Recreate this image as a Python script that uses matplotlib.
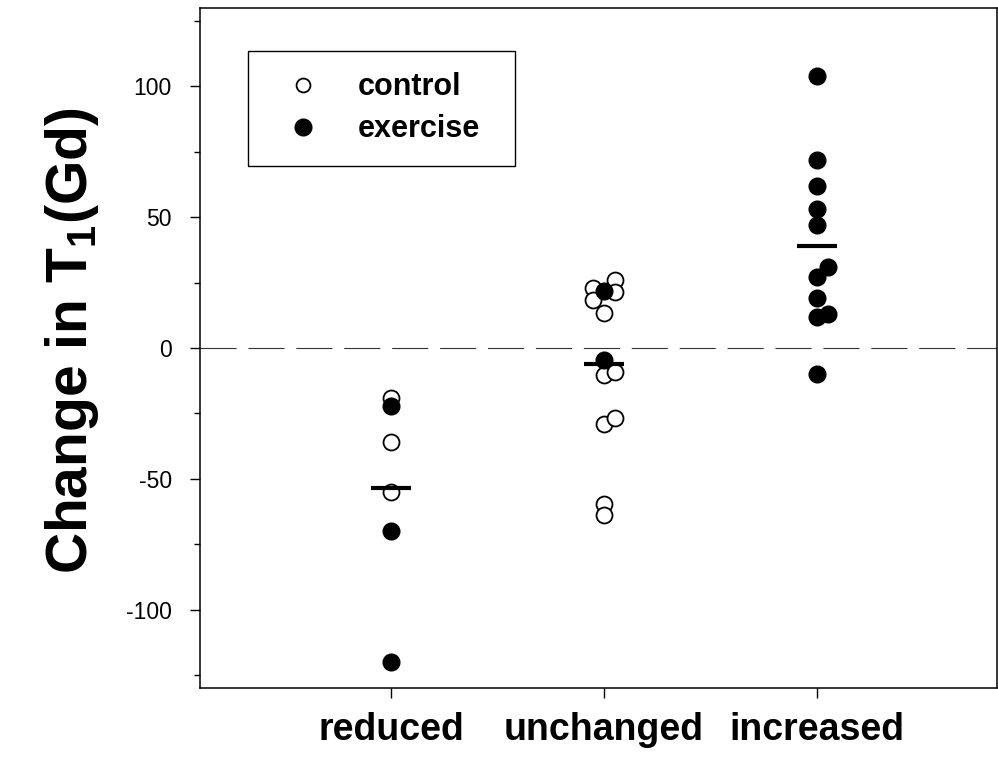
import numpy as np
import matplotlib
matplotlib.use("Agg")
import matplotlib.pyplot as plt
from matplotlib.lines import Line2D

plt.rcParams['font.family'] = ['Liberation Sans', 'DejaVu Sans']
plt.rcParams['mathtext.fontset'] = 'custom'
plt.rcParams['mathtext.rm'] = 'Liberation Sans'
plt.rcParams['mathtext.bf'] = 'Liberation Sans:bold'
plt.rcParams['lines.scale_dashes'] = False
plt.rcParams['axes.unicode_minus'] = False

categories = ["reduced", "unchanged", "increased"]

# control (open) and exercise (filled) values per category
control_reduced = [-19, -36, -55]
control_unchanged = [23, 26, 21.5, 18.4, 13.4, -10.2, -9.2, -28.9, -26.6, -59.6, -64]
control_increased = []
exercise_reduced = [-22, -70, -120]
exercise_unchanged = [21.8, -4.4]
exercise_increased = [104, 72, 62, 53, 47, 31, 27, 19, 13, 12, -10]

# horizontal jitter so overlapping points stay visible
control_jitter = {
    "reduced": [0, 0, 0],
    "unchanged": [-0.05, 0.05, 0.05, -0.05, 0, 0, 0.05, 0, 0.05, 0, 0],
    "increased": [],
}
exercise_jitter = {
    "reduced": [0, 0, 0],
    "unchanged": [0, 0],
    "increased": [0, 0, 0, 0, 0, 0.05, 0, 0, 0.05, 0, 0],
}

control = {"reduced": control_reduced, "unchanged": control_unchanged, "increased": control_increased}
exercise = {"reduced": exercise_reduced, "unchanged": exercise_unchanged, "increased": exercise_increased}

fig = plt.figure(figsize=(9.98, 7.58), dpi=100)
ax = fig.add_axes([0.2004, 0.0923, 0.7986, 0.8971])

ax.axhline(0, color="#333333", lw=0.8, linestyle=(0, (26, 8.5)), zorder=1)

for i, cat in enumerate(categories):
    pos = i + 1
    cv = np.array(control[cat], dtype=float)
    ev = np.array(exercise[cat], dtype=float)
    if len(cv):
        ax.plot(pos + np.array(control_jitter[cat]), cv, "o", ms=11.5, mfc="white",
                mec="black", mew=1.3, ls="none", zorder=3)
    if len(ev):
        ax.plot(pos + np.array(exercise_jitter[cat]), ev, "o", ms=12, mfc="black",
                mec="black", mew=1, ls="none", zorder=4)
    allv = np.concatenate([cv, ev])
    ax.hlines(allv.mean(), pos - 0.094, pos + 0.094, color="black", lw=3, zorder=5)

ax.set_xlim(0.103, 3.845)
ax.set_ylim(-130, 130)
ax.set_xticks([1, 2, 3])
ax.set_xticklabels(categories)
ax.set_yticks([-100, -50, 0, 50, 100])
ax.set_yticks([-125, -75, -25, 25, 75, 125], minor=True)

for sp in ax.spines.values():
    sp.set_linewidth(1.1)

ax.tick_params(axis="both", which="major", direction="out", length=7.2, width=1.0)
ax.tick_params(axis="y", which="minor", direction="out", length=4.3, width=1.0)
ax.tick_params(axis="y", labelsize=16.5, pad=13)
ax.tick_params(axis="x", labelsize=27, pad=10)
for t in ax.get_xticklabels():
    t.set_fontweight("bold")

fig.text(72 / 998, 1 - 341 / 758, r"Change in $\mathbf{T_1}$(Gd)", fontsize=41,
         fontweight="bold", rotation=90, ha="center", va="center")

handles = [
    Line2D([], [], marker="o", ls="none", ms=10, mfc="white", mec="black", mew=1.3),
    Line2D([], [], marker="o", ls="none", ms=12, mfc="black", mec="black"),
]
leg = ax.legend(handles, ["control", "exercise"], loc="upper left",
                bbox_to_anchor=(0.060, 0.768, 0.335, 0.169), mode="expand",
                borderaxespad=0, fancybox=False, framealpha=1, edgecolor="black",
                prop={"weight": "bold", "size": 22}, borderpad=0.7,
                labelspacing=0.4, handlelength=2.2, handletextpad=0.69)
leg.get_frame().set_linewidth(1.0)

fig.savefig("out.png", dpi=100)
